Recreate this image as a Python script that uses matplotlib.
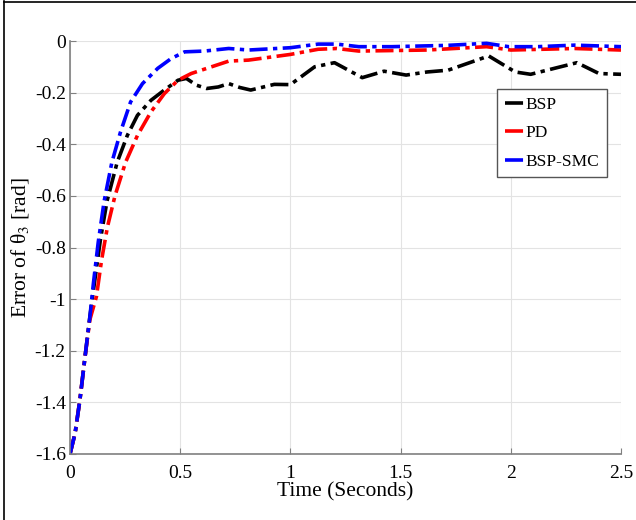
import numpy as np
import matplotlib
matplotlib.use('Agg')
import matplotlib.pyplot as plt
from matplotlib.lines import Line2D

plt.rcParams['font.family'] = ['Liberation Serif', 'DejaVu Serif']
plt.rcParams['mathtext.fontset'] = 'stix'

# curves
t_bsp = [0, 0.023, 0.045, 0.068, 0.09, 0.112, 0.138, 0.168, 0.214, 0.26, 0.306, 0.367, 0.428, 0.49,
         0.528, 0.573, 0.62, 0.673, 0.72, 0.77, 0.82, 0.927, 1.0, 1.11, 1.2, 1.326, 1.425, 1.525,
         1.62, 1.716, 1.9, 2.02, 2.09, 2.3, 2.4, 2.5]
e_bsp = [-1.6, -1.52, -1.39, -1.225, -1.07, -0.93, -0.77, -0.62, -0.47, -0.366, -0.288, -0.23, -0.19, -0.152,
         -0.145, -0.171, -0.184, -0.178, -0.165, -0.18, -0.19, -0.168, -0.169, -0.10, -0.084, -0.142, -0.117, -0.132,
         -0.12, -0.113, -0.058, -0.12, -0.129, -0.084, -0.126, -0.129]

t_pd = [0, 0.023, 0.045, 0.068, 0.09, 0.12, 0.143, 0.17, 0.204, 0.252, 0.306, 0.367, 0.428, 0.49,
        0.55, 0.642, 0.72, 0.81, 1.0, 1.126, 1.21, 1.31, 1.62, 1.89, 2.0, 2.29, 2.5]
e_pd = [-1.6, -1.52, -1.39, -1.225, -1.08, -0.99, -0.85, -0.72, -0.60, -0.47, -0.366, -0.275, -0.204, -0.152,
        -0.126, -0.10, -0.078, -0.074, -0.052, -0.032, -0.029, -0.039, -0.035, -0.022, -0.035, -0.029, -0.035]

t_smc = [0, 0.023, 0.045, 0.068, 0.09, 0.106, 0.128, 0.155, 0.19, 0.229, 0.275, 0.329, 0.398, 0.459,
         0.52, 0.61, 0.72, 0.81, 1.0, 1.126, 1.21, 1.31, 1.46, 1.71, 1.89, 1.99, 2.12, 2.29, 2.5]
e_smc = [-1.6, -1.52, -1.39, -1.225, -1.07, -0.94, -0.78, -0.62, -0.47, -0.353, -0.236, -0.165, -0.106, -0.068,
         -0.042, -0.039, -0.029, -0.035, -0.026, -0.012, -0.012, -0.022, -0.022, -0.017, -0.009, -0.022, -0.022,
         -0.016, -0.022]

xticks = [0, 0.5, 1, 1.5, 2, 2.5]
yticks = [0, -0.2, -0.4, -0.6, -0.8, -1, -1.2, -1.4, -1.6]

fig = plt.figure(figsize=(6.36, 5.2), dpi=100)
ax = fig.add_axes([70/636, 66/520, 551/636, 413/520])

dash = (5, 1.5, 1.2, 1.5)
ax.plot(t_bsp, e_bsp, color='black', lw=2.6, dashes=dash, label='BSP')
ax.plot(t_pd, e_pd, color='#ff0000', lw=2.6, dashes=dash, label='PD')
ax.plot(t_smc, e_smc, color='#0000ff', lw=2.6, dashes=dash, label='BSP-SMC')

ax.set_xlim(0, 2.5)
ax.set_ylim(-1.6, 0)
ax.set_xticks(xticks)
ax.set_xticklabels(['0', '0.5', '1', '1.5', '2', '2.5'])
ax.set_yticks(yticks)
ax.set_yticklabels(['0', '-0.2', '-0.4', '-0.6', '-0.8', '-1', '-1.2', '-1.4', '-1.6'])
ax.grid(True, color='#e3e3e3', lw=0.8)
ax.set_axisbelow(True)
for s in ['top', 'right']:
    ax.spines[s].set_visible(False)
for s in ['left', 'bottom']:
    ax.spines[s].set_color('#808080')
    ax.spines[s].set_linewidth(1.2)
ax.tick_params(direction='in', length=4, color='#808080', labelsize=14)
ax.tick_params(axis='x', pad=8)
ax.tick_params(axis='y', pad=3)
ax.set_xlabel('Time (Seconds)', fontsize=15.5, labelpad=0)
ax.set_ylabel('Error of θ$_3$ [rad]', fontsize=15.5, labelpad=3)

leg = ax.legend(loc='upper left', bbox_to_anchor=(427/551, 1 - 48/413), fontsize=12.5,
                handlelength=1.1, handletextpad=0.1, borderpad=0.45, labelspacing=0.7,
                fancybox=False, framealpha=1, borderaxespad=0)
leg.get_frame().set_edgecolor('#555555')
leg.get_frame().set_linewidth(1.0)

# outer frame (left and top edges visible in reference)
fig.add_artist(Line2D([4/636, 4/636], [0, 1 - 1/520], color='black', lw=1.2))
fig.add_artist(Line2D([4/636, 1], [1 - 1.5/520, 1 - 1.5/520], color='black', lw=1.2))

fig.savefig('out.png', dpi=100)
